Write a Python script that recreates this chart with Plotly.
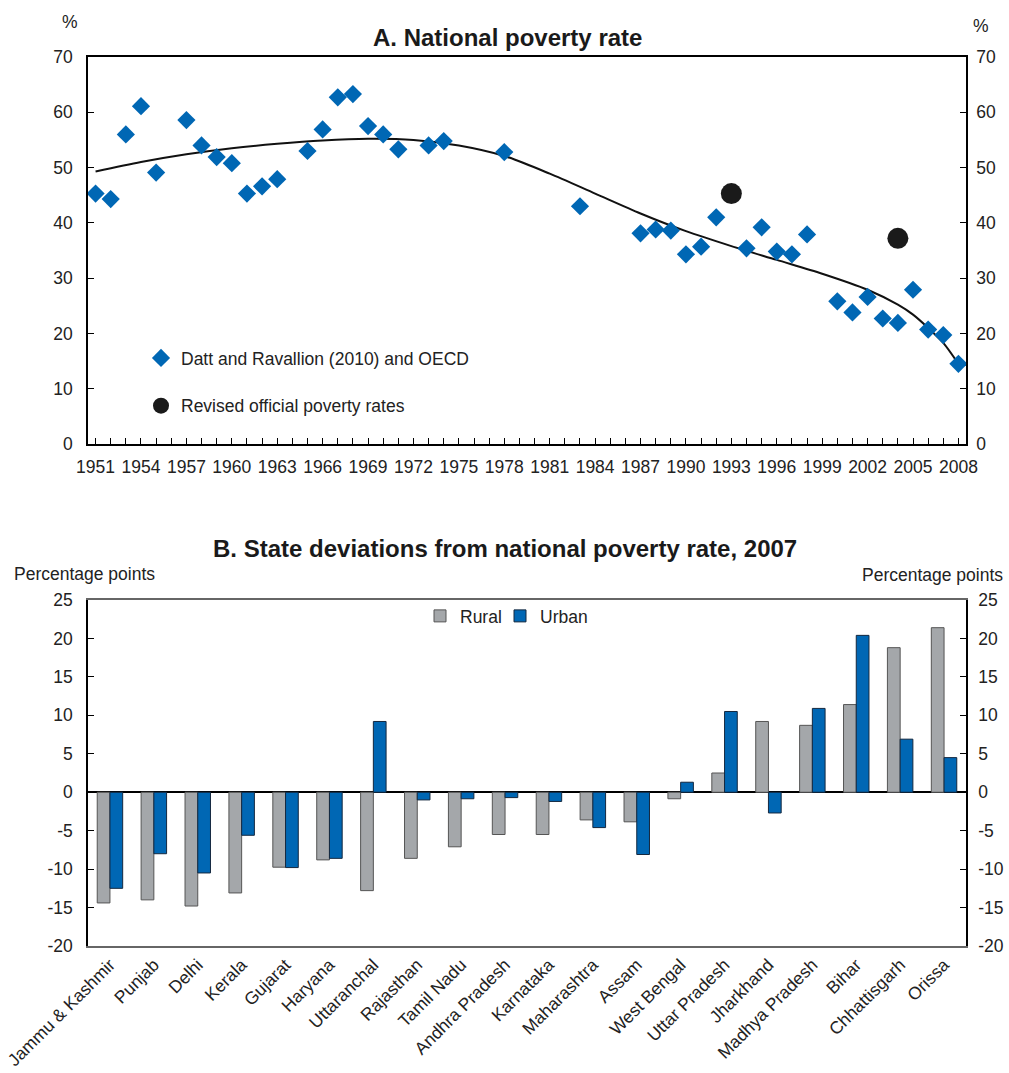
import plotly.graph_objects as go

# ---- Panel A: national poverty rate (%) ----
years = [1951, 1952, 1953, 1954, 1955, 1957, 1958, 1959, 1960, 1961, 1962, 1963,
         1965, 1966, 1967, 1968, 1969, 1970, 1971, 1973, 1974, 1978, 1983, 1987,
         1988, 1989, 1990, 1991, 1992, 1994, 1995, 1996, 1997, 1998, 2000, 2001,
         2002, 2003, 2004, 2005, 2006, 2007, 2008]
rates = [45.3, 44.3, 56.0, 61.1, 49.1, 58.6, 54.0, 51.9, 50.8, 45.3, 46.6, 47.9,
         53.0, 56.9, 62.7, 63.3, 57.5, 56.0, 53.3, 54.0, 54.8, 52.8, 43.0, 38.1,
         38.8, 38.6, 34.3, 35.7, 41.0, 35.4, 39.2, 34.8, 34.3, 37.9, 25.8, 23.8,
         26.6, 22.7, 21.9, 27.9, 20.7, 19.7, 14.5]

trend_years = [1951, 1954, 1957, 1960, 1963, 1966, 1969, 1972, 1975, 1978, 1981,
               1984, 1987, 1990, 1993, 1996, 1999, 2002, 2004, 2005, 2006, 2007, 2008]
trend_vals = [49.3, 51.0, 52.4, 53.5, 54.3, 54.9, 55.2, 55.0, 54.0, 52.1, 48.9,
              45.3, 41.7, 38.5, 35.8, 33.3, 30.8, 27.9, 25.2, 23.4, 21.0, 18.3, 14.5]

official_years = [1993, 2004]
official_rates = [45.3, 37.2]

year_ticks = [1951, 1954, 1957, 1960, 1963, 1966, 1969, 1972, 1975, 1978, 1981,
              1984, 1987, 1990, 1993, 1996, 1999, 2002, 2005, 2008]

# ---- Panel B: state deviations, 2007 (percentage points) ----
states = ["Jammu & Kashmir", "Punjab", "Delhi", "Kerala", "Gujarat", "Haryana",
          "Uttaranchal", "Rajasthan", "Tamil Nadu", "Andhra Pradesh", "Karnataka",
          "Maharashtra", "Assam", "West Bengal", "Uttar Pradesh", "Jharkhand",
          "Madhya Pradesh", "Bihar", "Chhattisgarh", "Orissa"]
rural = [-14.4, -14.0, -14.8, -13.1, -9.75, -8.8, -12.8, -8.6, -7.1, -5.5, -5.5,
         -3.6, -3.85, -0.85, 2.5, 9.2, 8.7, 11.4, 18.8, 21.4]
urban = [-12.5, -8.0, -10.5, -5.6, -9.8, -8.6, 9.2, -1.0, -0.85, -0.7, -1.2,
         -4.6, -8.1, 1.3, 10.5, -2.7, 10.9, 20.4, 6.9, 4.5]

pp_ticks = [-20, -15, -10, -5, 0, 5, 10, 15, 20, 25]
pp_labels = ["-20", "-15", "-10", "-5", "0", "5", "10", "15", "20", "25"]

FONT = "Liberation Sans, Arial, Helvetica, sans-serif"
BLUE = "#0067B4"
GREY = "#A4A7AA"
TXT = "#222222"

# plot-area geometry (pixels)
L, R, T, B = 88, 43, 57, 127
H = 1073 - T - B


def py(pix):
    """Vertical pixel position -> paper coordinate."""
    return (1073 - B - pix) / H


def px(pix):
    """Horizontal pixel position -> paper coordinate."""
    return (pix - L) / (1009 - L - R)


fig = go.Figure()

# Panel A traces
fig.add_trace(go.Scatter(
    x=trend_years, y=trend_vals, mode="lines",
    line=dict(color="#111111", width=2, shape="spline", smoothing=0.8),
    showlegend=False, hoverinfo="skip", xaxis="x", yaxis="y"))
fig.add_trace(go.Scatter(
    x=years, y=rates, mode="markers", name="Datt and Ravallion (2010) and OECD",
    marker=dict(symbol="diamond", size=14, color=BLUE),
    legend="legend", legendgroup="a", xaxis="x", yaxis="y"))
fig.add_trace(go.Scatter(
    x=official_years, y=official_rates, mode="markers",
    name="Revised official poverty rates",
    marker=dict(symbol="circle", size=21, color="#1a1a1a"),
    legend="legend", legendgroup="b", xaxis="x", yaxis="y"))
# right-hand mirror axis for panel A
fig.add_trace(go.Scatter(x=[years[0]], y=[rates[0]], mode="markers",
                         marker=dict(opacity=0), showlegend=False,
                         hoverinfo="skip", xaxis="x", yaxis="y3"))

# Panel B traces
fig.add_trace(go.Bar(
    x=states, y=rural, name="Rural",
    marker=dict(color=GREY, line=dict(color="#555555", width=1)),
    legend="legend2", xaxis="x2", yaxis="y2"))
fig.add_trace(go.Bar(
    x=states, y=urban, name="Urban",
    marker=dict(color=BLUE, line=dict(color="#14283f", width=1)),
    legend="legend3", xaxis="x2", yaxis="y2"))
fig.add_trace(go.Scatter(x=[states[0]], y=[0], mode="markers",
                         marker=dict(opacity=0), showlegend=False,
                         hoverinfo="skip", xaxis="x2", yaxis="y4"))

domA = [py(444), 1.0]
domB = [0.0, py(600)]
tickfont = dict(family=FONT, size=17.5, color=TXT)
legfont = dict(family=FONT, size=17.5, color=TXT)

yaxis_common = dict(showgrid=False, zeroline=False, showline=True,
                    linecolor="black", linewidth=1.5, ticks="inside",
                    ticklen=6, tickcolor="black", tickfont=tickfont,
                    automargin=False)
pp_axis = dict(range=[-20, 25], tickmode="array", tickvals=pp_ticks,
               ticktext=pp_labels)

fig.update_layout(
    width=1009, height=1073,
    margin=dict(l=L, r=R, t=T, b=B),
    paper_bgcolor="white", plot_bgcolor="white",
    font=dict(family=FONT, size=17.5, color=TXT),
    barmode="group", bargap=0.42, bargroupgap=0,
    xaxis=dict(domain=[0, 1], range=[1950.5, 2008.5], anchor="y",
               tickmode="array", tickvals=year_ticks,
               ticktext=[str(v) for v in year_ticks], tickangle=0,
               showgrid=False, zeroline=False, showline=True, mirror=True,
               linecolor="black", linewidth=1.5, ticks="inside", ticklen=6,
               tickcolor="black", tickfont=tickfont, automargin=False,
               ticklabelstandoff=6,
               minor=dict(tickmode="linear", tick0=1951, dtick=1,
                          ticks="inside", ticklen=6, tickcolor="black")),
    yaxis=dict(domain=domA, range=[0, 70], dtick=10, anchor="x",
               mirror=True, ticklabelstandoff=10, **yaxis_common),
    yaxis3=dict(overlaying="y", side="right", range=[0, 70], dtick=10,
                anchor="x", ticklabelstandoff=5, **yaxis_common),
    xaxis2=dict(domain=[0, 1], range=[-0.5, 19.5], anchor="y2",
                showgrid=False, zeroline=False, showline=True, mirror=True,
                linecolor="#666666", linewidth=1.5, ticks="", automargin=False,
                tickangle=-45, tickfont=dict(family=FONT, size=17.5, color=TXT)),
    yaxis2=dict(domain=domB, anchor="x2", ticklabelstandoff=10, **pp_axis,
                **{**yaxis_common, "zeroline": True, "zerolinecolor": "black",
                   "zerolinewidth": 2}),
    yaxis4=dict(overlaying="y2", side="right", anchor="x2",
                ticklabelstandoff=7, **pp_axis, **yaxis_common),
    legend=dict(x=px(141), y=py(340), xanchor="left", yanchor="top",
                bgcolor="rgba(0,0,0,0)", traceorder="grouped",
                tracegroupgap=22, font=legfont, itemwidth=30),
    legend2=dict(x=px(420), y=py(598), xanchor="left", yanchor="top",
                 bgcolor="rgba(0,0,0,0)", font=legfont),
    legend3=dict(x=px(500), y=py(598), xanchor="left", yanchor="top",
                 bgcolor="rgba(0,0,0,0)", font=legfont),
    annotations=[
        dict(text="<b>A. National poverty rate</b>", x=px(507), y=py(38),
             xref="paper", yref="paper", xanchor="center", yanchor="middle",
             showarrow=False, font=dict(family=FONT, size=24, color="#1a1a1a")),
        dict(text="<b>B. State deviations from national poverty rate, 2007</b>",
             x=px(505), y=py(548), xref="paper", yref="paper",
             xanchor="center", yanchor="middle", showarrow=False,
             font=dict(family=FONT, size=24, color="#1a1a1a")),
        dict(text="%", x=px(70), y=py(22), xref="paper", yref="paper",
             xanchor="center", yanchor="middle", showarrow=False,
             font=tickfont),
        dict(text="%", x=px(981), y=py(26), xref="paper", yref="paper",
             xanchor="center", yanchor="middle", showarrow=False,
             font=tickfont),
        dict(text="Percentage points", x=px(12), y=py(574), xref="paper",
             yref="paper", xanchor="left", yanchor="middle", showarrow=False,
             font=tickfont),
        dict(text="Percentage points", x=px(1005), y=py(575), xref="paper",
             yref="paper", xanchor="right", yanchor="middle", showarrow=False,
             font=tickfont),
    ],
)

fig.write_html("out.html")
